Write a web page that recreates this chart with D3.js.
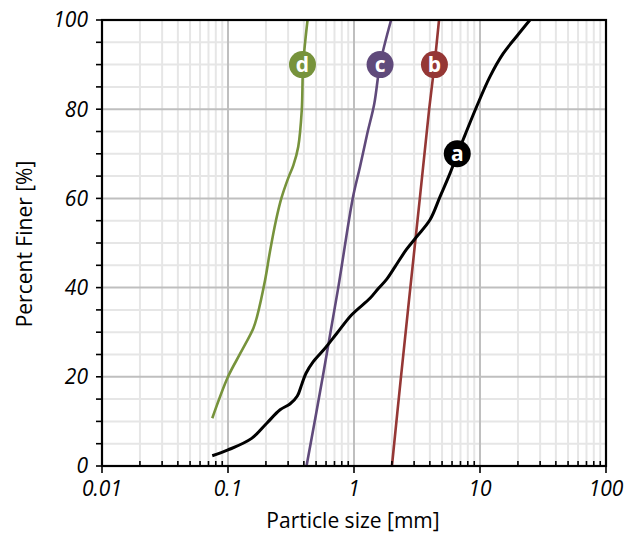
<!DOCTYPE html>
<html><head><meta charset="utf-8">
<script src="https://cdn.jsdelivr.net/npm/d3@7"></script>
<style>body{margin:0;background:#fff}svg{display:block}</style>
</head><body>
<svg id="c" width="631" height="533"></svg>
<script>
// Data: [particle size (mm), percent finer (%)]
const seriesA = [[0.075,2.3],[0.1,3.6],[0.154,6.2],[0.203,9.6],[0.259,12.6],[0.31,13.9],[0.355,15.7],[0.386,18.4],[0.416,20.8],[0.475,23.4],[0.589,26.4],[0.729,29.7],[0.959,33.9],[1.34,37.6],[1.56,39.8],[1.82,41.9],[2.12,44.7],[2.6,48.5],[3.14,51.4],[4.01,55.2],[4.82,60.4],[5.78,65.6],[6.6,69.9],[7.6,74.2],[9.41,80.6],[12.0,87.3],[15.3,92.5],[19.5,96.3],[24.9,100]];
const seriesB = [[2.0,0],[2.36,20],[2.8,40],[3.33,60],[3.95,80],[4.35,90],[4.73,100]];
const seriesC = [[0.42,0],[0.565,20],[0.75,40],[0.977,60],[1.116,67.1],[1.276,74.6],[1.45,81.3],[1.61,90.1],[1.97,100]];
const seriesD = [[0.075,10.7],[0.1,20],[0.126,25.4],[0.159,30.9],[0.17,33.5],[0.197,41.7],[0.215,48],[0.24,55],[0.265,60],[0.3,64.5],[0.33,67.4],[0.361,71.6],[0.385,79.8],[0.395,90],[0.428,100]];
const labels = [
  {key:"a", x:6.6, y:70, color:"#000000"},
  {key:"b", x:4.35, y:90, color:"#953735"},
  {key:"c", x:1.61, y:90, color:"#604A7B"},
  {key:"d", x:0.39, y:90, color:"#77933C"}
];
const xTicks = [0.01,0.1,1,10,100];
const xTickLabels = ["0.01","0.1","1","10","100"];
const yTicks = [0,20,40,60,80,100];

const svg = d3.select("#c");
const L=102, R=606, T=20, B=466;
const x = d3.scaleLog().domain([0.01,100]).range([L,R]);
const y = d3.scaleLinear().domain([0,100]).range([B,T]);

const minorX = [];
for (let d=0.01; d<100; d*=10) for (let k=2;k<=9;k++) minorX.push(+(d*k).toPrecision(3));
const minorY = d3.range(5,100,5).filter(v=>v%20!==0);

const g = svg.append("g");
g.selectAll(".mx").data(minorX).join("line")
  .attr("x1",d=>x(d)).attr("x2",d=>x(d)).attr("y1",T).attr("y2",B)
  .attr("stroke","#e6e6e6").attr("stroke-width",2);
g.selectAll(".my").data(minorY).join("line")
  .attr("y1",d=>y(d)).attr("y2",d=>y(d)).attr("x1",L).attr("x2",R)
  .attr("stroke","#e6e6e6").attr("stroke-width",2);
g.selectAll(".Mx").data(xTicks.slice(1,-1)).join("line")
  .attr("x1",d=>x(d)).attr("x2",d=>x(d)).attr("y1",T).attr("y2",B)
  .attr("stroke","#bfbfbf").attr("stroke-width",2);
g.selectAll(".My").data(yTicks.slice(1,-1)).join("line")
  .attr("y1",d=>y(d)).attr("y2",d=>y(d)).attr("x1",L).attr("x2",R)
  .attr("stroke","#bfbfbf").attr("stroke-width",2);

const line = d3.line().x(d=>x(d[0])).y(d=>y(d[1])).curve(d3.curveCatmullRom.alpha(0.5));
const plot = svg.append("g");
plot.append("path").datum(seriesD).attr("d",line).attr("fill","none").attr("stroke","#77933C").attr("stroke-width",2.6);
plot.append("path").datum(seriesC).attr("d",line).attr("fill","none").attr("stroke","#604A7B").attr("stroke-width",2.6);
plot.append("path").datum(seriesB).attr("d",line).attr("fill","none").attr("stroke","#953735").attr("stroke-width",2.6);
plot.append("path").datum(seriesA).attr("d",line).attr("fill","none").attr("stroke","#000").attr("stroke-width",3);

svg.append("rect").attr("x",L).attr("y",T).attr("width",R-L).attr("height",B-T)
  .attr("fill","none").attr("stroke","#000").attr("stroke-width",2.2);

svg.selectAll(".yt").data(d3.range(0,101,5)).join("line")
  .attr("x1",L-6).attr("x2",L).attr("y1",d=>y(d)).attr("y2",d=>y(d))
  .attr("stroke","#000").attr("stroke-width",1.6);
svg.selectAll(".xt").data(minorX).join("line")
  .attr("x1",d=>x(d)).attr("x2",d=>x(d)).attr("y1",B-5).attr("y2",B)
  .attr("stroke","#000").attr("stroke-width",1.6);
svg.selectAll(".xT").data(xTicks).join("line")
  .attr("x1",d=>x(d)).attr("x2",d=>x(d)).attr("y1",B).attr("y2",B+7)
  .attr("stroke","#000").attr("stroke-width",1.6);

const font = "'Open Sans', sans-serif";
svg.selectAll(".yl").data(yTicks).join("text")
  .attr("x",88).attr("y",d=>y(d)+7.3).attr("text-anchor","end")
  .attr("font-family",font).attr("font-style","italic").attr("font-size",21).attr("fill","#000")
  .text(d=>d);
svg.selectAll(".xl").data(xTicks).join("text")
  .attr("x",d=>x(d)).attr("y",496).attr("text-anchor","middle")
  .attr("font-family",font).attr("font-style","italic").attr("font-size",21).attr("fill","#000")
  .text((d,i)=>xTickLabels[i]);

svg.append("text").attr("x",353).attr("y",528).attr("text-anchor","middle")
  .attr("font-family",font).attr("font-size",21).attr("fill","#000").text("Particle size [mm]");
svg.append("text").attr("transform","translate(32,244) rotate(-90)").attr("text-anchor","middle")
  .attr("font-family",font).attr("font-size",21).attr("fill","#000").text("Percent Finer [%]");

const lg = svg.selectAll(".lab").data(labels).join("g")
  .attr("transform",d=>`translate(${x(d.x)},${y(d.y)})`);
lg.append("circle").attr("r",13.5).attr("fill",d=>d.color);
lg.append("text").attr("text-anchor","middle").attr("y",7.5)
  .attr("font-family",font).attr("font-weight","bold").attr("font-size",21).attr("fill","#fff")
  .text(d=>d.key);
</script>
</body></html>
